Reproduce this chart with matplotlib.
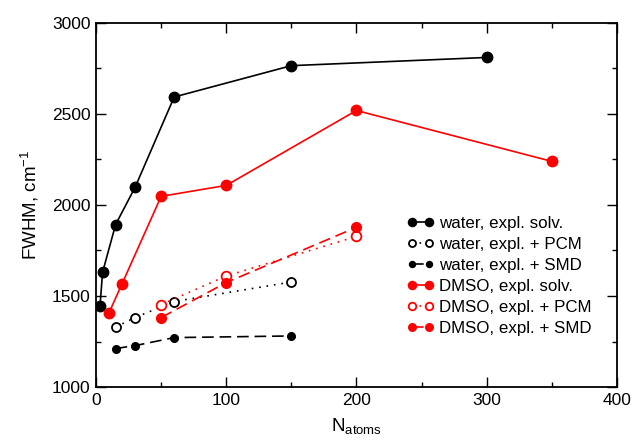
import matplotlib
matplotlib.use('Agg')
import matplotlib.pyplot as plt
from matplotlib.ticker import MultipleLocator

plt.rcParams['font.family'] = ['Liberation Sans', 'DejaVu Sans']
plt.rcParams['mathtext.default'] = 'regular'

# water
w_solv_x = [3, 5, 15, 30, 60, 150, 300]
w_solv_y = [1443, 1630, 1892, 2097, 2592, 2764, 2809]
w_pcm_x = [15, 30, 60, 150]
w_pcm_y = [1330, 1382, 1470, 1577]
w_smd_x = [15, 30, 60, 150]
w_smd_y = [1212, 1228, 1272, 1281]

# DMSO
d_solv_x = [10, 20, 50, 100, 200, 350]
d_solv_y = [1409, 1568, 2047, 2107, 2518, 2239]
d_pcm_x = [50, 100, 200]
d_pcm_y = [1453, 1610, 1827]
d_smd_x = [50, 100, 200]
d_smd_y = [1382, 1574, 1877]

labels = ['water, expl. solv.', 'water, expl. + PCM', 'water, expl. + SMD',
          'DMSO, expl. solv.', 'DMSO, expl. + PCM', 'DMSO, expl. + SMD']

fig = plt.figure(figsize=(6.32, 4.44), dpi=100)
ax = fig.add_axes([0.152, 0.128, 0.824, 0.821])

lw = 1.2
dots = (1, 3.5)
dash = (7, 3.5)
ax.plot(w_solv_x, w_solv_y, '-o', c='black', lw=lw, ms=7.5, label=labels[0])
ax.plot(w_pcm_x, w_pcm_y, 'o', ls=(0, dots), c='black', lw=lw, ms=6.5,
        mfc='white', mew=1.3, label=labels[1])
ax.plot(w_smd_x, w_smd_y, 'o', ls=(0, dash), c='black', lw=lw, ms=5.5,
        label=labels[2])
ax.plot(d_solv_x, d_solv_y, '-o', c='red', lw=lw, ms=7.5, label=labels[3])
ax.plot(d_pcm_x, d_pcm_y, 'o', ls=(0, dots), c='red', lw=lw, ms=7,
        mfc='white', mew=1.3, label=labels[4])
ax.plot(d_smd_x, d_smd_y, 'o', ls=(0, dash), c='red', lw=lw, ms=7,
        label=labels[5])

ax.set_xlim(0, 400)
ax.set_ylim(1000, 3000)
ax.xaxis.set_major_locator(MultipleLocator(100))
ax.xaxis.set_minor_locator(MultipleLocator(50))
ax.yaxis.set_major_locator(MultipleLocator(500))
ax.yaxis.set_minor_locator(MultipleLocator(250))
ax.tick_params(which='both', direction='in', top=True, right=True,
               width=1.0, labelsize=12.5)
ax.tick_params(which='major', length=7.5, pad=4)
ax.tick_params(which='minor', length=3.8)
for s in ax.spines.values():
    s.set_linewidth(1.3)

ax.set_xlabel('N$_{atoms}$', fontsize=13.5, labelpad=6)
ax.set_ylabel('FWHM, cm$^{-1}$', fontsize=13.5, labelpad=8)

ax.legend(loc='center left', bbox_to_anchor=(0.597, 0.305), frameon=False,
          fontsize=12.2, numpoints=2, handlelength=1.6, handletextpad=0.3,
          labelspacing=0.35, borderpad=0, borderaxespad=0, markerscale=0.78)

fig.savefig('out.png', dpi=100)
